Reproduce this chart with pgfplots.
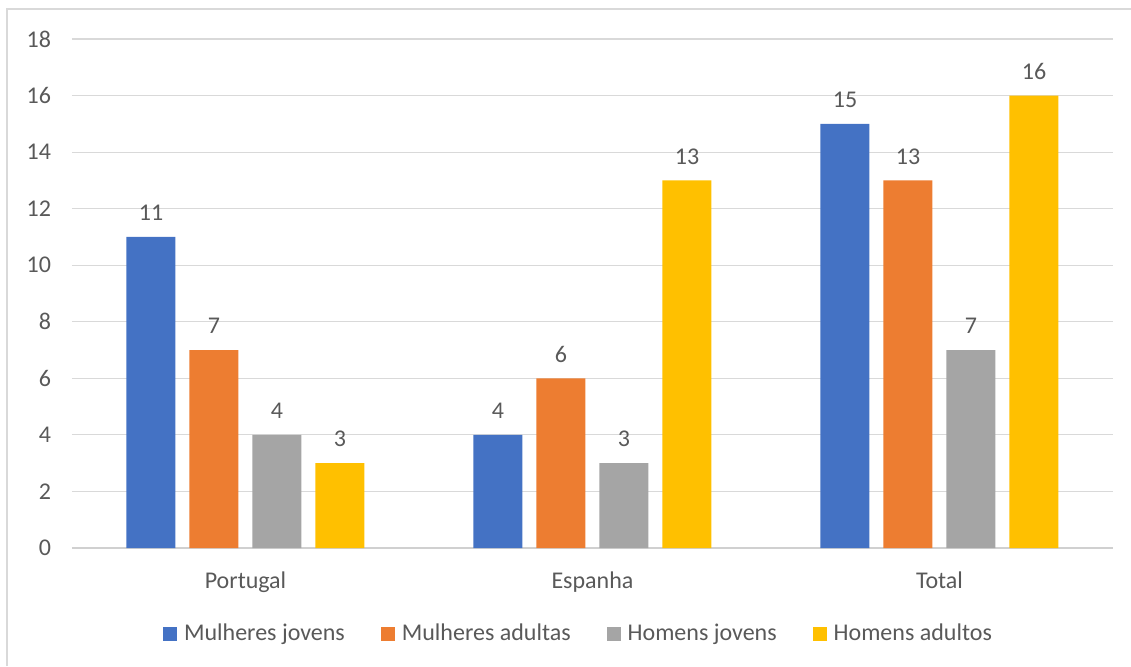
\documentclass[border=0pt]{standalone}
\usepackage{fontspec}
\setmainfont{Carlito}
\usepackage{pgfplots}
\pgfplotsset{compat=1.18}
\definecolor{cblue}{HTML}{4472C4}
\definecolor{corange}{HTML}{ED7D31}
\definecolor{cgray}{HTML}{A5A5A5}
\definecolor{cyellow}{HTML}{FFC000}
\definecolor{textgray}{HTML}{595959}
\definecolor{gridgray}{HTML}{D9D9D9}
\definecolor{axisgray}{HTML}{D0D0D0}
\begin{document}
\begin{tikzpicture}
\useasboundingbox (-36pt,-59pt) rectangle (529.5pt,274pt);
\draw[color=gridgray, line width=0.75pt] (-32.5pt,-59pt) -- (-32.5pt,269.5pt) -- (529.5pt,269.5pt);
\begin{axis}[
  at={(0pt,0pt)}, anchor=south west,
  scale only axis, width=520.5pt, height=254.5pt,
  ybar,
  /pgf/number format/assume math mode=true,
  xmin=-0.5, xmax=2.5, ymin=0, ymax=18,
  xtick={0,1,2}, xticklabels={Portugal,Espanha,Total},
  ytick={0,2,...,18},
  ymajorgrids, grid style={color=gridgray, line width=0.6pt},
  axis x line*=bottom, axis y line*=left,
  x axis line style={color=axisgray, line width=1.2pt, -},
  y axis line style={draw=none},
  major tick length=0pt, tick style={draw=none},
  ticklabel style={font=\fontsize{12}{14}\selectfont, text=textgray},
  yticklabel style={xshift=-7pt},
  xticklabel style={yshift=-8.5pt},
  bar width=24.5pt,
  nodes near coords,
  every node near coord/.append style={font=\fontsize{12}{14}\selectfont, text=textgray, yshift=4.5pt},
  legend image code/.code={\fill[#1, draw=none] (0pt,-3.5pt) rectangle (7pt,3.5pt);},
  legend style={at={(0.4875,-0.169)}, anchor=center, draw=none, legend columns=4,
    font=\fontsize{12}{14}\selectfont, text=textgray,
    /tikz/every odd column/.append style={column sep=1.5pt},
    /tikz/every even column/.append style={column sep=16pt}},
  clip=false,
]
\addplot[fill=cblue, draw=none, bar shift=-47.25pt] coordinates {(0,11) (1,4) (2,15)};
\addplot[fill=corange, draw=none, bar shift=-15.75pt] coordinates {(0,7) (1,6) (2,13)};
\addplot[fill=cgray, draw=none, bar shift=15.75pt] coordinates {(0,4) (1,3) (2,7)};
\addplot[fill=cyellow, draw=none, bar shift=47.25pt] coordinates {(0,3) (1,13) (2,16)};
\legend{Mulheres jovens, Mulheres adultas, Homens jovens, Homens adultos}
\end{axis}
\end{tikzpicture}
\end{document}
